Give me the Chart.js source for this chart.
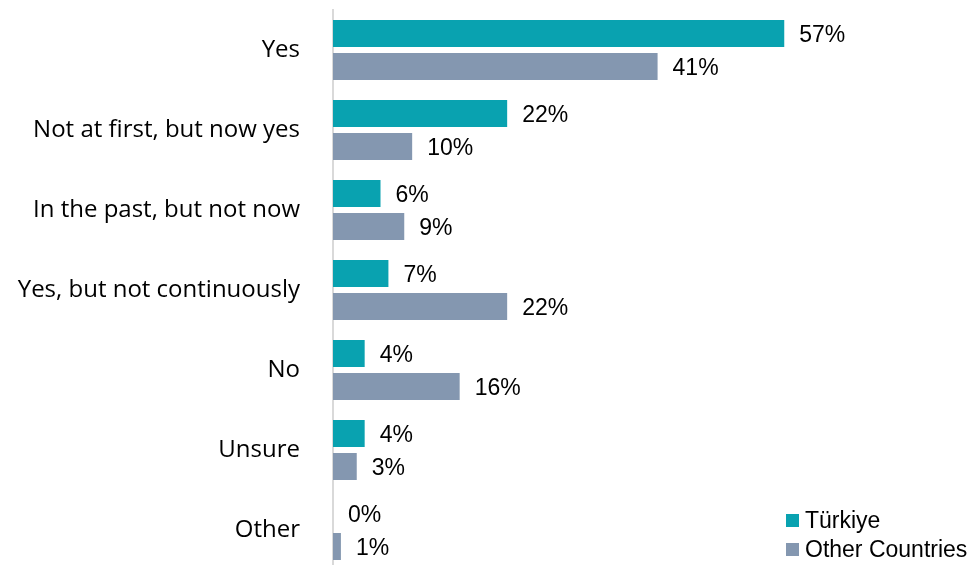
<!DOCTYPE html>
<html>
<head>
<meta charset="utf-8">
<script src="https://cdn.jsdelivr.net/npm/chart.js@4"></script>
<style>
  body { margin: 0; background: #fff; overflow: hidden; }
  #wrap { position: relative; width: 975px; height: 575px; }
  #legend { position: absolute; left: 786px; top: 506px; font: 23px "Liberation Sans", Arial, sans-serif; color: #000; }
  #legend .item { display: flex; align-items: center; height: 29px; white-space: nowrap; }
  #legend .box { width: 13px; height: 13px; margin-right: 6px; }
</style>
</head>
<body>
<div id="wrap">
  <canvas id="chart" width="975" height="575"></canvas>
  <div id="legend"></div>
</div>
<script>
// chart data
const categories = ['Yes', 'Not at first, but now yes', 'In the past, but not now',
    'Yes, but not continuously', 'No', 'Unsure', 'Other'];
const turkiyeValues = [57, 22, 6, 7, 4, 4, 0];
const otherValues = [41, 10, 9, 22, 16, 3, 1];
const seriesNames = ['Türkiye', 'Other Countries'];
const seriesColors = ['#09A2B0', '#8497B0'];

// draws the "57%" style labels right of each bar
const valueLabels = {
    id: 'valueLabels',
    afterDatasetsDraw(chart) {
        const ctx = chart.ctx;
        ctx.save();
        ctx.font = '23px "Liberation Sans", Arial, sans-serif';
        ctx.fillStyle = '#000';
        ctx.textAlign = 'left';
        ctx.textBaseline = 'middle';
        chart.data.datasets.forEach((ds, i) => {
            chart.getDatasetMeta(i).data.forEach((bar, j) => {
                ctx.fillText(ds.data[j] + '%', bar.x + 15, bar.y + 2);
            });
        });
        ctx.restore();
    }
};

const chart = new Chart(document.getElementById('chart'), {
    type: 'bar',
    data: {
        labels: categories,
        datasets: [
            { label: seriesNames[0], data: turkiyeValues, backgroundColor: seriesColors[0] },
            { label: seriesNames[1], data: otherValues, backgroundColor: seriesColors[1] }
        ]
    },
    options: {
        indexAxis: 'y',
        responsive: false,
        animation: false,
        categoryPercentage: 0.825,
        barPercentage: 0.82,
        layout: { padding: { top: 10, bottom: 5, left: 0, right: 167 } },
        scales: {
            x: {
                display: false,
                min: 0,
                max: 60
            },
            y: {
                grid: { display: false, drawTicks: false },
                border: { display: true, color: '#D9D9D9', width: 2 },
                ticks: {
                    padding: 33,
                    color: '#000',
                    font: { family: 'Open Sans', size: 24 }
                },
                afterFit(scale) {
                    scale.width = 333;
                    // the tick padding should not push the chart area down
                    scale.paddingTop = 0;
                    scale.paddingBottom = 0;
                }
            }
        },
        plugins: {
            legend: { display: false },
            tooltip: { enabled: false }
        }
    },
    plugins: [valueLabels]
});

// legend in the bottom right corner
const legendEl = document.getElementById('legend');
seriesNames.forEach((name, i) => {
    const item = document.createElement('div');
    item.className = 'item';
    item.innerHTML = '<span class="box" style="background:' + seriesColors[i] + '"></span>' + name;
    legendEl.appendChild(item);
});
</script>
</body>
</html>
